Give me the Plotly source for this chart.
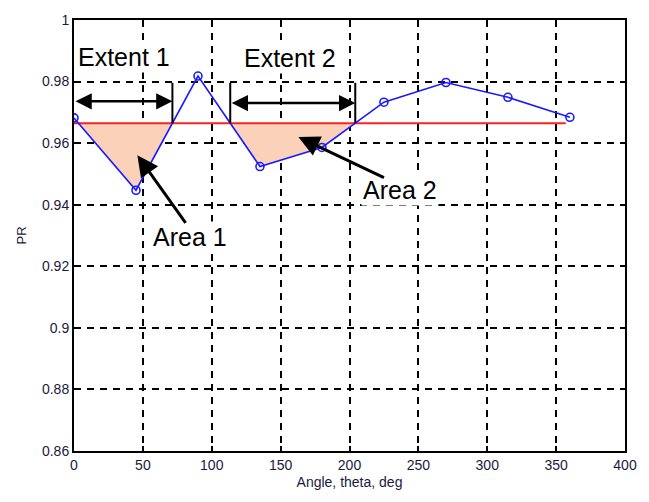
import numpy as np
import plotly.graph_objects as go

# ---- data ----
angle = [0, 45, 90, 135, 180, 225, 270, 315, 360]
pr = [0.9682, 0.9447, 0.9818, 0.9524, 0.9586, 0.9733, 0.9797, 0.9749, 0.9684]
threshold = 0.9665
threshold_x = [0, 357]

x_ticks = [0, 50, 100, 150, 200, 250, 300, 350, 400]
y_ticks = [0.86, 0.88, 0.90, 0.92, 0.94, 0.96, 0.98, 1.0]
y_tick_text = ["0.86", "0.88", "0.9", "0.92", "0.94", "0.96", "0.98", "1"]

# annotation anchor positions (data units)
extent_labels = [("Extent 1", 36.1, 0.9881), ("Extent 2", 156.9, 0.9878)]
extent_arrow_y = [0.9736, 0.9730]
extent_top = 0.9796
area_labels = [("Area 1", 84.3, 0.9294), ("Area 2", 236.3, 0.9449)]
area_heads = [(46.0, 0.9561), (162.9, 0.9620)]
area_tails = [(81.8, 0.9336), (226.1, 0.9486)]

# ---- compute regions where the curve is below the threshold ----
ax_ = np.array(angle, float)
ay_ = np.array(pr, float)
regions = []
cur = None
for i in range(len(ax_) - 1):
    x0, x1, y0, y1 = ax_[i], ax_[i + 1], ay_[i], ay_[i + 1]
    b0, b1 = y0 < threshold, y1 < threshold
    if b0 and cur is not None:
        cur.append((x0, y0))
    if (not b0) and b1:
        xc = x0 + (threshold - y0) / (y1 - y0) * (x1 - x0)
        cur = [(xc, threshold)]
    elif b0 and not b1:
        xc = x0 + (threshold - y0) / (y1 - y0) * (x1 - x0)
        cur.append((xc, threshold))
        regions.append(cur)
        cur = None

fig = go.Figure()

for reg in regions:
    xs = [p[0] for p in reg]
    ys = [p[1] for p in reg]
    fig.add_trace(go.Scatter(x=xs + [xs[0]], y=ys + [ys[0]], fill="toself",
                             fillcolor="#fbd2b9", line=dict(width=0),
                             mode="lines", hoverinfo="skip", showlegend=False))

fig.add_trace(go.Scatter(x=threshold_x, y=[threshold, threshold], mode="lines",
                         line=dict(color="#ff2020", width=2), showlegend=False))
fig.add_trace(go.Scatter(x=angle, y=pr, mode="lines+markers",
                         line=dict(color="#1a1aff", width=1.6),
                         marker=dict(symbol="circle-open", size=8, color="#1a1aff",
                                     line=dict(width=1.6)),
                         showlegend=False))

annotations = []
shapes = []
for k, reg in enumerate(regions):
    xa = reg[0][0]
    xb = reg[-1][0]
    if k == 0:
        xa_arrow = 0.0
    else:
        xa_arrow = xa
        shapes.append(dict(type="line", xref="x", yref="y", x0=xa, x1=xa,
                           y0=threshold, y1=extent_top, line=dict(color="black", width=2)))
    shapes.append(dict(type="line", xref="x", yref="y", x0=xb, x1=xb,
                       y0=threshold, y1=extent_top, line=dict(color="black", width=2)))
    annotations.append(dict(x=xb, y=extent_arrow_y[k], ax=xa_arrow, ay=extent_arrow_y[k],
                            xref="x", yref="y", axref="x", ayref="y", text="",
                            showarrow=True, arrowhead=2, startarrowhead=2,
                            arrowside="end+start", arrowsize=1.3, startarrowsize=1.3,
                            arrowwidth=2.5, arrowcolor="black"))

for (t, x, y) in extent_labels + area_labels:
    annotations.append(dict(x=x, y=y, xref="x", yref="y", text=t, showarrow=False,
                            bgcolor="white", borderpad=1,
                            font=dict(family="Liberation Sans, Arial", size=25, color="black")))

for (hx, hy), (tx, ty) in zip(area_heads, area_tails):
    annotations.append(dict(x=hx, y=hy, ax=tx, ay=ty, xref="x", yref="y",
                            axref="x", ayref="y", text="", showarrow=True,
                            arrowhead=2, arrowsize=1.4, arrowwidth=3, arrowcolor="black"))

tick_font = dict(family="Liberation Sans, Arial", size=14, color="#1a1a40")
fig.update_layout(
    width=649, height=502,
    margin=dict(l=74, r=16, t=15, b=51),
    paper_bgcolor="white", plot_bgcolor="white",
    shapes=shapes, annotations=annotations,
    xaxis=dict(range=[0, 400], tickvals=x_ticks, ticktext=[str(v) for v in x_ticks],
               showgrid=True, gridcolor="black", griddash="7px,6px", gridwidth=1.6,
               zeroline=False, showline=True, linecolor="black", linewidth=2,
               mirror="ticks", ticks="inside", ticklen=5, tickwidth=1.5, tickcolor="black",
               tickfont=tick_font,
               title=dict(text="Angle, theta, deg", font=dict(family="Liberation Sans, Arial", size=14, color="#1a1a40"), standoff=5)),
    yaxis=dict(range=[0.86, 1.0], tickvals=y_ticks, ticktext=y_tick_text,
               showgrid=True, gridcolor="black", griddash="7px,6px", gridwidth=1.6,
               zeroline=False, showline=True, linecolor="black", linewidth=2,
               mirror="ticks", ticks="inside", ticklen=5, tickwidth=1.5, tickcolor="black",
               tickfont=tick_font,
               title=dict(text="PR", font=dict(family="Liberation Sans, Arial", size=13, color="#1a1a40"), standoff=12)),
)

fig.write_html("out.html")
